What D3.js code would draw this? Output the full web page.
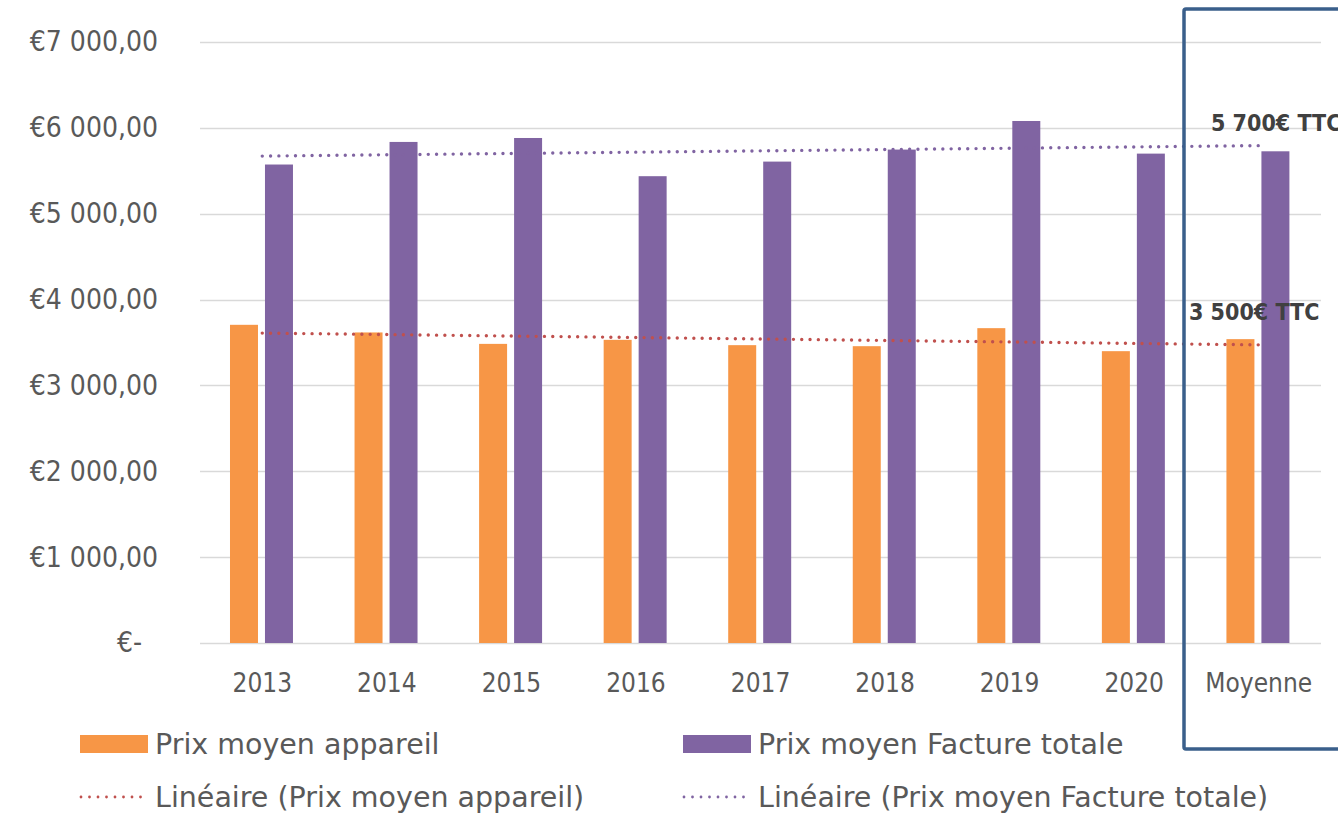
<!DOCTYPE html>
<html>
<head>
<meta charset="utf-8">
<script src="https://cdn.jsdelivr.net/npm/d3@7"></script>
<style>
  body { margin: 0; background: #fff; }
  text { font-family: "DejaVu Sans Condensed", "DejaVu Sans", sans-serif; font-stretch: condensed; }
  text.legend { font-family: "DejaVu Sans", sans-serif; font-stretch: normal; }
</style>
</head>
<body>
<div id="chart"></div>
<script>
// values
var categories = ["2013", "2014", "2015", "2016", "2017", "2018", "2019", "2020", "Moyenne"];
var prixAppareil = [3706, 3617, 3484, 3531, 3469, 3457, 3667, 3399, 3539];
var prixFacture = [5573, 5836, 5882, 5437, 5607, 5747, 6080, 5700, 5727];
var yTicks = [0, 1000, 2000, 3000, 4000, 5000, 6000, 7000];
var barNames = ["Prix moyen appareil", "Prix moyen Facture totale"];
var trendNames = ["Linéaire (Prix moyen appareil)", "Linéaire (Prix moyen Facture totale)"];
var annotations = ["5 700€ TTC", "3 500€ TTC"];

(function drawChart() {
  var W = 1338, H = 813;
  var left = 200, right = 1321, top = 42, bottom = 643;
  var orange = "#f79646", purple = "#8064a2", red = "#c0504d";
  var textCol = "#595959";

  var svg = d3.select("#chart").append("svg")
    .attr("width", W)
    .attr("height", H);

  svg.append("rect").attr("width", W).attr("height", H).attr("fill", "#fff");

  var x = d3.scaleBand()
    .domain(categories)
    .range([left, right])
    .padding(0);
  var bw = x.bandwidth();

  // pair of bars inside each category
  var x1 = d3.scaleBand()
    .domain([0, 1])
    .range([bw * 30 / 124.6, bw * 93 / 124.6])
    .paddingInner(0.2)
    .paddingOuter(0);

  var y = d3.scaleLinear()
    .domain([0, 7000])
    .range([bottom, top]);

  var fr = d3.formatLocale({ decimal: ",", thousands: " ", grouping: [3], currency: ["€", ""] });
  var fmt = fr.format(",.2f");

  // gridlines
  svg.append("g")
    .selectAll("line")
    .data(yTicks)
    .enter().append("line")
    .attr("x1", left)
    .attr("x2", right)
    .attr("y1", function(d) { return Math.round(y(d)) + 0.5; })
    .attr("y2", function(d) { return Math.round(y(d)) + 0.5; })
    .attr("stroke", "#d9d9d9")
    .attr("stroke-width", 1.5);

  // y axis labels
  var yAxis = d3.axisLeft(y)
    .tickValues(yTicks)
    .tickSize(0)
    .tickPadding(0)
    .tickFormat(function(d) { return d === 0 ? "€-" : "€" + fmt(d); });

  var ya = svg.append("g")
    .attr("transform", "translate(158,0)")
    .call(yAxis);
  ya.select(".domain").remove();
  ya.selectAll("text")
    .attr("fill", textCol)
    .attr("font-size", "28px")
    .attr("dx", function(d) { return d === 0 ? -16 : 0; });

  // x axis labels
  var xAxis = d3.axisBottom(x).tickSize(0).tickPadding(0);
  var xa = svg.append("g")
    .attr("transform", "translate(0,683)")
    .call(xAxis);
  xa.select(".domain").remove();
  xa.selectAll("text")
    .attr("fill", textCol)
    .attr("font-size", "26px")
    .attr("dy", "0.35em");

  // bars
  var seriesData = [prixAppareil, prixFacture];
  var colors = [orange, purple];
  seriesData.forEach(function(vals, s) {
    svg.append("g")
      .selectAll("rect")
      .data(vals)
      .enter().append("rect")
      .attr("x", function(d, i) { return x(categories[i]) + x1(s); })
      .attr("width", x1.bandwidth())
      .attr("y", function(d) { return y(d); })
      .attr("height", function(d) { return y(0) - y(d); })
      .attr("fill", colors[s]);
  });

  // linear trend lines (least squares over the 9 points)
  function linReg(vals) {
    var n = vals.length;
    var xs = d3.range(1, n + 1);
    var mx = d3.mean(xs), my = d3.mean(vals);
    var num = d3.sum(xs, function(xv, i) { return (xv - mx) * (vals[i] - my); });
    var den = d3.sum(xs, function(xv) { return (xv - mx) * (xv - mx); });
    var b = num / den, a = my - b * mx;
    return xs.map(function(xv) { return a + b * xv; });
  }

  var line = d3.line()
    .x(function(d, i) { return x(categories[i]) + bw / 2; })
    .y(function(d) { return y(d); });

  var trendColors = [red, purple];
  seriesData.forEach(function(vals, s) {
    svg.append("path")
      .datum(linReg(vals))
      .attr("d", line)
      .attr("fill", "none")
      .attr("stroke", trendColors[s])
      .attr("stroke-width", 3.4)
      .attr("stroke-linecap", "round")
      .attr("stroke-dasharray", "0 8.3");
  });

  // highlight box round "Moyenne"
  svg.append("rect")
    .attr("x", 1184)
    .attr("y", 9)
    .attr("width", 200)
    .attr("height", 740)
    .attr("fill", "none")
    .attr("stroke", "#3a5f8b")
    .attr("stroke-width", 3.5)
    .attr("rx", 2);

  // annotations
  svg.append("text")
    .text(annotations[0])
    .attr("x", 1211)
    .attr("y", 131)
    .attr("font-size", "23px")
    .attr("font-weight", "bold")
    .attr("fill", "#404040");

  svg.append("text")
    .text(annotations[1])
    .attr("x", 1189)
    .attr("y", 320)
    .attr("font-size", "23px")
    .attr("font-weight", "bold")
    .attr("fill", "#404040");

  // legend
  var legX = [80, 683];
  barNames.forEach(function(name, i) {
    svg.append("rect")
      .attr("x", legX[i])
      .attr("y", 735)
      .attr("width", 68)
      .attr("height", 18)
      .attr("fill", colors[i]);
    svg.append("text")
      .attr("class", "legend")
      .text(name)
      .attr("x", legX[i] + 75)
      .attr("y", 744)
      .attr("dy", "0.35em")
      .attr("font-size", "28.5px")
      .attr("fill", textCol);
  });

  trendNames.forEach(function(name, i) {
    svg.append("line")
      .attr("x1", legX[i] + 1)
      .attr("x2", legX[i] + 69)
      .attr("y1", 797)
      .attr("y2", 797)
      .attr("stroke", trendColors[i])
      .attr("stroke-width", 2.8)
      .attr("stroke-linecap", "round")
      .attr("stroke-dasharray", "0 8.5");
    svg.append("text")
      .attr("class", "legend")
      .text(name)
      .attr("x", legX[i] + 75)
      .attr("y", 797)
      .attr("dy", "0.35em")
      .attr("font-size", "28.5px")
      .attr("fill", textCol);
  });
})();
</script>
</body>
</html>
